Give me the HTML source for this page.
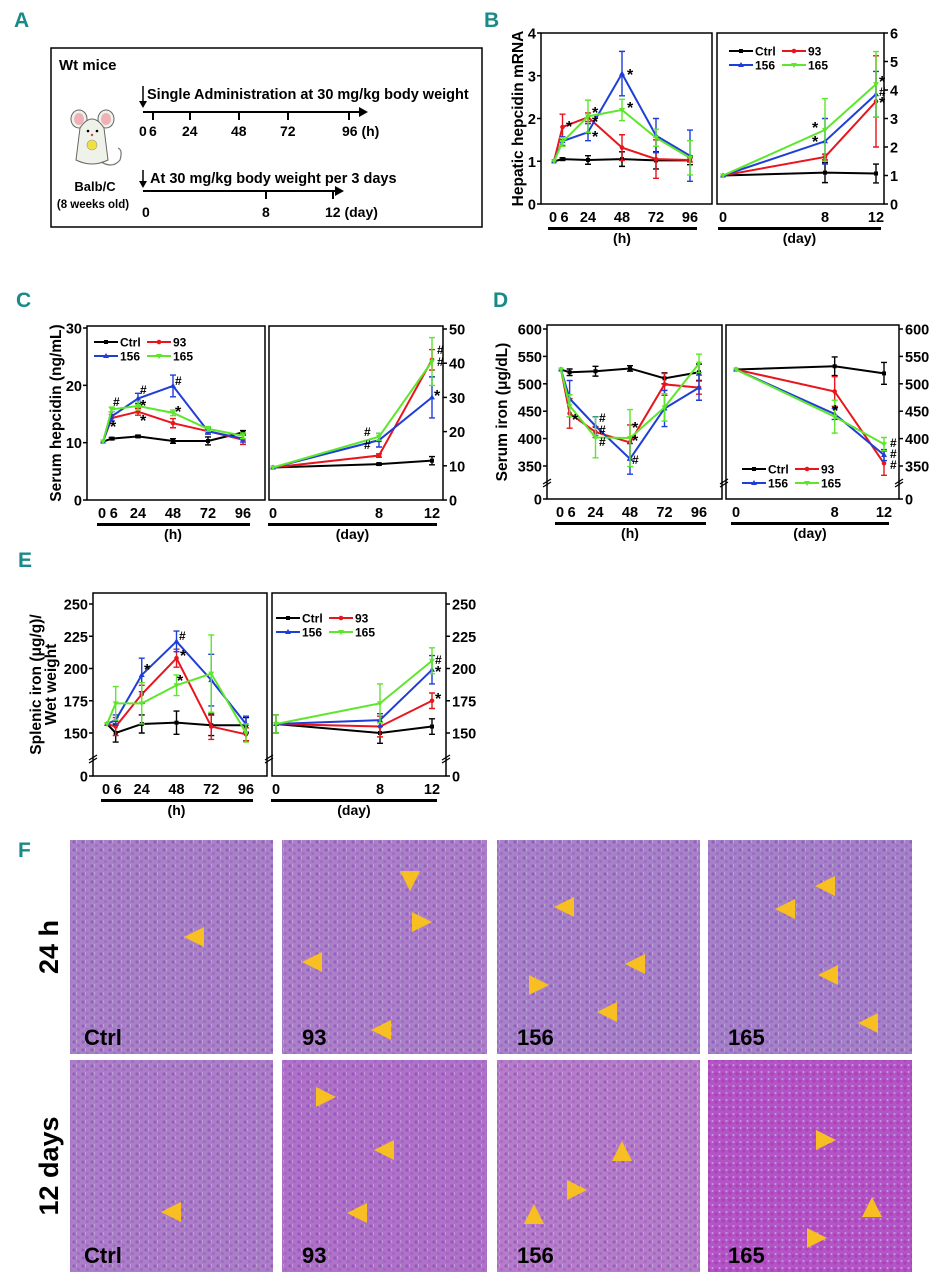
<!DOCTYPE html>
<html><head><meta charset="utf-8">
<style>
html,body{margin:0;padding:0;background:#fff;}
svg{display:block;font-family:"Liberation Sans",sans-serif;}
.pl{font-family:"Liberation Sans",sans-serif;font-weight:bold;fill:#1a8a88;font-size:21px;}
.tk{font-weight:bold;font-size:14.5px;fill:#000;}
.lg{font-weight:bold;font-size:12px;fill:#000;}
.at{font-weight:bold;font-size:14px;fill:#000;}
</style></head>
<body>
<svg id="fig" width="946" height="1280" viewBox="0 0 946 1280" xmlns="http://www.w3.org/2000/svg">
<defs>
<pattern id="cells" width="9" height="8" patternUnits="userSpaceOnUse">
<circle cx="2" cy="2" r="1.6" fill="#8a3fb8" opacity="0.55"/>
<circle cx="6.5" cy="5.5" r="1.4" fill="#9c4cc0" opacity="0.5"/>
<rect x="4" y="0" width="1" height="3" fill="#c8c8dc" opacity="0.5"/>
</pattern>
<pattern id="cells2" width="7" height="7" patternUnits="userSpaceOnUse">
<circle cx="2" cy="3" r="1.7" fill="#b02aa8" opacity="0.5"/>
<circle cx="5.5" cy="1" r="1" fill="#d0d0e8" opacity="0.6"/>
</pattern>
</defs>

<text class="pl" x="14" y="27">A</text>
<text class="pl" x="484" y="27">B</text>
<text class="pl" x="16" y="307">C</text>
<text class="pl" x="493" y="307">D</text>
<text class="pl" x="18" y="567">E</text>
<text class="pl" x="18" y="857">F</text>

<g>
<rect x="51" y="48" width="431" height="179" fill="none" stroke="#000" stroke-width="1.5"/>
<text x="59" y="70" style="font-weight:bold;font-size:15px">Wt mice</text>
<g>
<path d="M98 160 Q112 170 120 160 Q123 150 118 148" fill="none" stroke="#777" stroke-width="1.2"/>
<ellipse cx="79" cy="119" rx="8" ry="9" fill="#eef2e8" stroke="#666"/>
<ellipse cx="79" cy="119" rx="5" ry="6" fill="#f0b0b8"/>
<ellipse cx="106" cy="119" rx="8" ry="9" fill="#eef2e8" stroke="#666"/>
<ellipse cx="106" cy="119" rx="5" ry="6" fill="#f0b0b8"/>
<path d="M80 128 Q92 110 104 128 L108 160 Q92 168 76 160 Z" fill="#eef2e8" stroke="#666"/>
<circle cx="88" cy="131" r="1.3" fill="#000"/><circle cx="97" cy="131" r="1.3" fill="#000"/>
<circle cx="92" cy="135" r="1.2" fill="#d04050"/>
<ellipse cx="92" cy="145" rx="5" ry="5" fill="#f0e040" stroke="#999" stroke-width="0.6"/>
</g>
<text x="95" y="191" text-anchor="middle" style="font-weight:bold;font-size:13px">Balb/C</text>
<text x="93" y="208" text-anchor="middle" style="font-weight:bold;font-size:11.5px">(8 weeks old)</text>
<g>
<line x1="143" y1="86" x2="143" y2="104" stroke="#000" stroke-width="1.5"/><path d="M139 101 L143 108 L147 101 Z"/>
<text x="147" y="99" style="font-weight:bold;font-size:14.5px">Single Administration at 30 mg/kg body weight</text>
<line x1="143" y1="112" x2="362" y2="112" stroke="#000" stroke-width="2"/><path d="M359 107 L368 112 L359 117 Z"/>
<g stroke="#000" stroke-width="2"><line x1="153" y1="112" x2="153" y2="120"/><line x1="190" y1="112" x2="190" y2="120"/><line x1="239" y1="112" x2="239" y2="120"/><line x1="288" y1="112" x2="288" y2="120"/><line x1="349" y1="112" x2="349" y2="120"/></g>
<g class="at"><text x="139" y="136">0</text><text x="149" y="136">6</text><text x="182" y="136">24</text><text x="231" y="136">48</text><text x="280" y="136">72</text><text x="342" y="136">96 (h)</text></g>
</g>
<g>
<line x1="143" y1="170" x2="143" y2="184" stroke="#000" stroke-width="1.5"/><path d="M139 181 L143 188 L147 181 Z"/>
<text x="150" y="183" style="font-weight:bold;font-size:14.5px">At 30 mg/kg body weight per 3 days</text>
<line x1="143" y1="191" x2="338" y2="191" stroke="#000" stroke-width="2"/><path d="M335 186 L344 191 L335 196 Z"/>
<g stroke="#000" stroke-width="2"><line x1="266" y1="191" x2="266" y2="199"/><line x1="333" y1="191" x2="333" y2="199"/></g>
<g class="at"><text x="142" y="217">0</text><text x="262" y="217">8</text><text x="325" y="217">12 (day)</text></g>
</g>
</g>

<g id="charts"></g>
<g id="histo"></g>
</svg>

<script>
var hours = [0, 6, 24, 48, 72, 96];
var days = [0, 8, 12];
var groups = ["Ctrl", "93", "156", "165"];

var bH_ctrl = [1, 1.05, 1.03, 1.05, 1.02, 1.02];
var bH_93 = [1, 1.8, 2.03, 1.32, 1.05, 1.03];
var bH_156 = [1, 1.47, 1.68, 3.05, 1.6, 1.13];
var bH_165 = [1, 1.45, 2.05, 2.2, 1.55, 1.08];
var bH_err_ctrl = [0, 0.03, 0.1, 0.17, 0.2, 0.1];
var bH_err_93 = [0, 0.3, 0.1, 0.3, 0.45, 0.05];
var bH_err_156 = [0, 0.1, 0.2, 0.52, 0.4, 0.6];
var bH_err_165 = [0, 0.1, 0.38, 0.25, 0.2, 0.4];
var bD_ctrl = [1, 1.1, 1.07];
var bD_93 = [1, 1.65, 3.6];
var bD_156 = [1, 2.2, 3.85];
var bD_165 = [1, 2.6, 4.2];
var bD_err_ctrl = [0, 0.35, 0.33];
var bD_err_93 = [0, 0.1, 1.6];
var bD_err_156 = [0, 0.8, 0.8];
var bD_err_165 = [0, 1.1, 1.15];
var bYTicksL = [0, 1, 2, 3, 4];
var bYTicksR = [0, 1, 2, 3, 4, 5, 6];

var cH_ctrl = [10.2, 10.7, 11.1, 10.3, 10.3, 11.8];
var cH_93 = [10.2, 14.3, 15.4, 13.4, 12, 10.5];
var cH_156 = [10.2, 14.6, 17.7, 19.9, 12, 10.7];
var cH_165 = [10.2, 15.8, 16.4, 15.2, 12.4, 11.2];
var cH_err_ctrl = [0, 0.2, 0.2, 0.4, 0.7, 0.3];
var cH_err_93 = [0, 0.6, 0.6, 0.8, 0.5, 0.8];
var cH_err_156 = [0, 0.8, 0.9, 1.9, 0.5, 0.6];
var cH_err_165 = [0, 0.4, 0.7, 0.5, 0.4, 0.5];
var cD_ctrl = [9.5, 10.5, 11.5];
var cD_93 = [9.5, 13, 41];
var cD_156 = [9.5, 17.5, 30];
var cD_165 = [9.5, 18.5, 40.5];
var cD_err_ctrl = [0, 0.3, 1.2];
var cD_err_93 = [0, 0.5, 3];
var cD_err_156 = [0, 2, 6];
var cD_err_165 = [0, 1, 7];
var cYTicksL = [0, 10, 20, 30];
var cYTicksR = [0, 10, 20, 30, 40, 50];

var dH_ctrl = [526, 521, 523, 528, 510, 521];
var dH_93 = [526, 446, 412, 393, 499, 493];
var dH_156 = [526, 473, 423, 363, 455, 493];
var dH_165 = [526, 460, 402, 401, 457, 537];
var dH_err_ctrl = [0, 6, 9, 5, 10, 15];
var dH_err_93 = [0, 27, 10, 32, 20, 12];
var dH_err_156 = [0, 33, 17, 28, 33, 23];
var dH_err_165 = [0, 20, 37, 52, 25, 17];
var dD_ctrl = [526, 532, 519];
var dD_93 = [526, 486, 355];
var dD_156 = [526, 445, 370];
var dD_165 = [526, 440, 390];
var dD_err_ctrl = [0, 17, 20];
var dD_err_93 = [0, 27, 22];
var dD_err_156 = [0, 10, 10];
var dD_err_165 = [0, 30, 12];
var dYTicks = [350, 400, 450, 500, 550, 600];

var eH_ctrl = [157, 150, 157, 158, 156, 156];
var eH_93 = [157, 155, 180, 208, 155, 149];
var eH_156 = [157, 160, 195, 221, 191, 157];
var eH_165 = [157, 173, 173, 187, 196, 150];
var eH_err_ctrl = [0, 7, 7, 9, 8, 6];
var eH_err_93 = [0, 7, 7, 7, 10, 5];
var eH_err_156 = [0, 4, 13, 8, 20, 6];
var eH_err_165 = [0, 13, 16, 8, 30, 7];
var eD_ctrl = [157, 150, 155];
var eD_93 = [157, 155, 175];
var eD_156 = [157, 160, 199];
var eD_165 = [157, 173, 206];
var eD_err_ctrl = [7, 8, 6];
var eD_err_93 = [0, 8, 6];
var eD_err_156 = [0, 5, 11];
var eD_err_165 = [7, 15, 10];
var eYTicks = [150, 175, 200, 225, 250];

var colors = ["#000000", "#e8151d", "#1e3ed8", "#5de62c"];

var NS = "http://www.w3.org/2000/svg";
var root = document.getElementById("charts");
function mk(tag, attrs, parent) {
  var e = document.createElementNS(NS, tag);
  for (var k in attrs) e.setAttribute(k, attrs[k]);
  (parent || root).appendChild(e);
  return e;
}
function txt(s, x, y, cls, anchor, parent) {
  var t = mk("text", {x: x, y: y, "class": cls || "tk", "text-anchor": anchor || "start"}, parent);
  t.textContent = s;
  return t;
}
function linScale(d0, d1, r0, r1) { return function (v) { return r0 + (v - d0) * (r1 - r0) / (d1 - d0); }; }

function marker(g, shape, x, y, c) {
  var m;
  if (shape === 0) m = mk("rect", {x: x - 2, y: y - 2, width: 4, height: 4, fill: c}, g);
  else if (shape === 1) m = mk("circle", {cx: x, cy: y, r: 2.3, fill: c}, g);
  else if (shape === 2) m = mk("path", {d: "M" + x + " " + (y - 3) + " L" + (x + 3) + " " + (y + 2) + " L" + (x - 3) + " " + (y + 2) + " Z", fill: c}, g);
  else m = mk("path", {d: "M" + x + " " + (y + 3) + " L" + (x + 3) + " " + (y - 2) + " L" + (x - 3) + " " + (y - 2) + " Z", fill: c}, g);
  
  
}

function series(g, xs, vals, errs, sx, sy, gi, nm) {
  var c = colors[gi];
  var sg = mk("g", {}, g);
  
  
  for (var i = 0; i < xs.length; i++) {
    var x = sx(xs[i]), e = errs[i];
    if (e > 0) {
      var y1 = sy(vals[i] + e), y2 = sy(vals[i] - e);
      var eb = mk("path", {d: "M" + x + " " + y1 + " V" + y2 + " M" + (x - 3) + " " + y1 + " H" + (x + 3) + " M" + (x - 3) + " " + y2 + " H" + (x + 3), stroke: c, "stroke-width": 1.4, fill: "none"}, sg);
      
      
    }
  }
  var d = "";
  for (var i = 0; i < xs.length; i++) d += (i ? " L" : "M") + sx(xs[i]) + " " + sy(vals[i]);
  var ln = mk("path", {d: d, stroke: c, "stroke-width": 2, fill: "none"}, sg);
  
  
  for (var i = 0; i < xs.length; i++) marker(sg, gi, sx(xs[i]), sy(vals[i]), c);
}

function legend(g, x, y, nm) {
  var lg = mk("g", {}, g);
  
  
  var pos = [[x, y], [x + 53, y], [x, y + 14], [x + 53, y + 14]];
  for (var i = 0; i < 4; i++) {
    var px = pos[i][0], py = pos[i][1];
    var en = mk("g", {}, lg);
    
    
    mk("line", {x1: px, y1: py, x2: px + 24, y2: py, stroke: colors[i], "stroke-width": 2}, en);
    marker(en, i, px + 12, py, colors[i]);
    txt(groups[i], px + 26, py + 4.5, "lg", "start", en);
  }
}

function breakMark(g, x, y) {
  var b = mk("path", {d: "M" + (x - 4) + " " + (y + 2) + " L" + (x + 4) + " " + (y - 3) + " M" + (x - 4) + " " + (y + 5) + " L" + (x + 4) + " " + y, stroke: "#000", "stroke-width": 1.3, fill: "none"}, g);
  
  
}

function panel(cfg) {
  var g = mk("g", {});
  
  
  [cfg.L, cfg.R].forEach(function (b, k) {
    var r = mk("rect", {x: b[0], y: b[1], width: b[2] - b[0], height: b[3] - b[1], fill: "none", stroke: "#000", "stroke-width": 1.5}, g);
    
    
  });
  var L = cfg.L, R = cfg.R;
  var sxL = linScale(0, 96, cfg.hx[0], cfg.hx[1]);
  var sxR = linScale(0, 12, cfg.dx[0], cfg.dx[1]);
  var ylg = mk("g", {}, g);
  
  
  cfg.ticksL.forEach(function (v) {
    var y = cfg.syL(v);
    mk("line", {x1: L[0] - 4, y1: y, x2: L[0], y2: y, stroke: "#000", "stroke-width": 1.5}, ylg);
    txt(String(v), L[0] - 5, y + 5.5, "tk", "end", ylg);
  });
  if (cfg.brk) {
    mk("line", {x1: L[0] - 4, y1: L[3], x2: L[0], y2: L[3], stroke: "#000", "stroke-width": 1.5}, ylg);
    txt("0", L[0] - 5, L[3] + 5.5, "tk", "end", ylg);
  }
  var yrg = mk("g", {}, g);
  
  
  cfg.ticksR.forEach(function (v) {
    var y = cfg.syR(v);
    mk("line", {x1: R[2], y1: y, x2: R[2] + 4, y2: y, stroke: "#000", "stroke-width": 1.5}, yrg);
    txt(String(v), R[2] + 6, y + 5.5, "tk", "start", yrg);
  });
  if (cfg.brk) {
    mk("line", {x1: R[2], y1: R[3], x2: R[2] + 4, y2: R[3], stroke: "#000", "stroke-width": 1.5}, yrg);
    txt("0", R[2] + 6, R[3] + 5.5, "tk", "start", yrg);
    breakMark(g, L[0], cfg.brk);
    breakMark(g, L[2] + 2, cfg.brk);
    breakMark(g, R[2], cfg.brk);
  }
  var xg = mk("g", {}, g);
  
  
  hours.forEach(function (h) {
    var xx = sxL(h) + (h === 0 ? -1 : (h === 6 ? 2 : 0));
    txt(String(h), xx, L[3] + 18, "tk", "middle", xg);
  });
  mk("rect", {x: sxL(0) - 6, y: L[3] + 23, width: sxL(96) - sxL(0) + 13, height: 3, fill: "#000"}, xg);
  txt("(h)", (sxL(0) + sxL(96)) / 2, L[3] + 39, "at", "middle", xg);
  var xg2 = mk("g", {}, g);
  
  
  days.forEach(function (d) { txt(String(d), sxR(d), R[3] + 18, "tk", "middle", xg2); });
  mk("rect", {x: sxR(0) - 5, y: R[3] + 23, width: sxR(12) - sxR(0) + 10, height: 3, fill: "#000"}, xg2);
  txt("(day)", (sxR(0) + sxR(12)) / 2, R[3] + 39, "at", "middle", xg2);
  var yt = mk("text", {x: 0, y: 0, transform: "translate(" + cfg.ytx + "," + ((L[1] + L[3]) / 2) + ") rotate(-90)", "text-anchor": "middle", style: "font-weight:bold;font-size:15.5px"}, g);
  
  
  cfg.ytitle.forEach(function (s, i) {
    var ts = mk("tspan", {x: 0, dy: i ? 15 : 0}, yt);
    ts.textContent = s;
  });
  for (var gi = 0; gi < 4; gi++) {
    series(g, hours, cfg.hv[gi], cfg.he[gi], sxL, cfg.syL, gi, "hours");
    series(g, days, cfg.dv[gi], cfg.de[gi], sxR, cfg.syR, gi, "days");
  }
  legend(g, cfg.lg[0], cfg.lg[1], cfg.name);
  var sg = mk("g", {}, g);
  
  
  (cfg.sig || []).forEach(function (s) {
    txt(s[0], s[1], s[2], "tk", "start", sg).setAttribute("style", "font-size:" + (s[0] === "*" ? 16 : 12) + "px");
  });
}

panel({name: "panel-b-hepatic-hepcidin", L: [541, 33, 712, 204], R: [717, 33, 884, 204],
  hx: [554, 690], dx: [723, 876],
  syL: linScale(0, 4, 204, 33), syR: linScale(0, 6, 204, 33),
  ticksL: bYTicksL, ticksR: bYTicksR, ytx: 523, ytitle: ["Hepatic hepcidin mRNA"],
  hv: [bH_ctrl, bH_93, bH_156, bH_165], he: [bH_err_ctrl, bH_err_93, bH_err_156, bH_err_165],
  dv: [bD_ctrl, bD_93, bD_156, bD_165], de: [bD_err_ctrl, bD_err_93, bD_err_156, bD_err_165],
  lg: [729, 51],
  sig: [["*", 566, 132], ["*", 592, 118], ["*", 592, 127], ["*", 592, 142], ["*", 627, 80], ["*", 627, 113], ["*", 812, 133], ["*", 812, 147], ["*", 879, 87], ["#", 879, 96], ["*", 879, 108]]});
panel({name: "panel-c-serum-hepcidin", L: [87, 326, 265, 500], R: [269, 326, 443, 500],
  hx: [103, 243], dx: [273, 432],
  syL: linScale(0, 30, 500, 328), syR: linScale(0, 50, 500, 329),
  ticksL: cYTicksL, ticksR: cYTicksR, ytx: 61, ytitle: ["Serum hepcidin (ng/mL)"],
  hv: [cH_ctrl, cH_93, cH_156, cH_165], he: [cH_err_ctrl, cH_err_93, cH_err_156, cH_err_165],
  dv: [cD_ctrl, cD_93, cD_156, cD_165], de: [cD_err_ctrl, cD_err_93, cD_err_156, cD_err_165],
  lg: [94, 342],
  sig: [["#", 113, 406], ["*", 110, 432], ["#", 140, 394], ["*", 140, 411], ["*", 140, 426], ["#", 175, 385], ["*", 175, 417], ["#", 364, 436], ["#", 364, 449], ["#", 437, 354], ["#", 437, 366], ["*", 434, 401]]});
var dyL = function (v) { return 466 - (v - 350) * (137 / 250); };
panel({name: "panel-d-serum-iron", L: [547, 325, 722, 499], R: [726, 325, 899, 499],
  hx: [561, 699], dx: [736, 884],
  syL: dyL, syR: dyL, brk: 482,
  ticksL: dYTicks, ticksR: dYTicks, ytx: 507, ytitle: ["Serum iron (μg/dL)"],
  hv: [dH_ctrl, dH_93, dH_156, dH_165], he: [dH_err_ctrl, dH_err_93, dH_err_156, dH_err_165],
  dv: [dD_ctrl, dD_93, dD_156, dD_165], de: [dD_err_ctrl, dD_err_93, dD_err_156, dD_err_165],
  lg: [742, 469],
  sig: [["*", 572, 425], ["#", 599, 422], ["#", 599, 434], ["#", 599, 446], ["*", 632, 433], ["*", 632, 446], ["#", 632, 464], ["*", 832, 416], ["#", 890, 447], ["#", 890, 458], ["#", 890, 469]]});
var eyS = function (v) { return 733 - (v - 150) * (129 / 100); };
panel({name: "panel-e-splenic-iron", L: [93, 593, 267, 776], R: [272, 593, 446, 776],
  hx: [107, 246], dx: [276, 432],
  syL: eyS, syR: eyS, brk: 758,
  ticksL: eYTicks, ticksR: eYTicks, ytx: 41, ytitle: ["Splenic iron (μg/g)/", "Wet weight"],
  hv: [eH_ctrl, eH_93, eH_156, eH_165], he: [eH_err_ctrl, eH_err_93, eH_err_156, eH_err_165],
  dv: [eD_ctrl, eD_93, eD_156, eD_165], de: [eD_err_ctrl, eD_err_93, eD_err_156, eD_err_165],
  lg: [276, 618],
  sig: [["*", 144, 675], ["#", 179, 640], ["*", 180, 661], ["*", 177, 686], ["#", 435, 664], ["*", 435, 677], ["*", 435, 704]]});

var hg = document.getElementById("histo");
var cols = [[70, 273], [282, 487], [497, 700], [708, 912]];
var rows = [[840, 1054], [1060, 1272]];
var imgLabels = ["Ctrl", "93", "156", "165"];
var tints = [["#a882c6", "#aa80c8", "#a683c8", "#a482c8"], ["#ab7fc8", "#ae72c8", "#b57cc9", "#b255c6"]];
var arrows = [
  [[[195, 937, 180]], [[410, 880, 90], [421, 922, 0], [313, 962, 180], [382, 1030, 180]], [[565, 907, 180], [636, 964, 180], [538, 985, 0], [608, 1012, 180]], [[826, 886, 180], [786, 909, 180], [829, 975, 180], [869, 1023, 180]]],
  [[[172, 1212, 180]], [[325, 1097, 0], [385, 1150, 180], [358, 1213, 180]], [[622, 1152, -90], [576, 1190, 0], [534, 1215, -90]], [[825, 1140, 0], [872, 1208, -90], [816, 1238, 0]]]
];
for (var r = 0; r < 2; r++) {
  for (var c = 0; c < 4; c++) {
    var x0 = cols[c][0], x1 = cols[c][1], y0 = rows[r][0], y1 = rows[r][1];
    var ig = mk("g", {}, hg);
    
    
    mk("rect", {x: x0, y: y0, width: x1 - x0, height: y1 - y0, fill: tints[r][c]}, ig);
    mk("rect", {x: x0, y: y0, width: x1 - x0, height: y1 - y0, fill: (r === 1 && c === 3) ? "url(#cells2)" : "url(#cells)"}, ig);
    arrows[r][c].forEach(function (a) {
      var tri = mk("path", {d: "M-11 0 L9 -10 L9 10 Z", fill: "#f8bf22", transform: "translate(" + a[0] + "," + a[1] + ") rotate(" + (a[2] + 180) + ")"}, ig);
      
      
    });
    var lt = txt(imgLabels[c], x0 + (c === 0 ? 14 : 20), y1 - 9, "tk", "start", ig);
    lt.setAttribute("style", "font-size:22px;font-weight:bold");
  }
}
var r1 = txt("24 h", 0, 0, "tk", "middle", hg);
r1.setAttribute("transform", "translate(58,947) rotate(-90)");
r1.setAttribute("style", "font-size:27px;font-weight:bold");


var r2 = txt("12 days", 0, 0, "tk", "middle", hg);
r2.setAttribute("transform", "translate(58,1166) rotate(-90)");
r2.setAttribute("style", "font-size:27px;font-weight:bold");


</script>
</body></html>
